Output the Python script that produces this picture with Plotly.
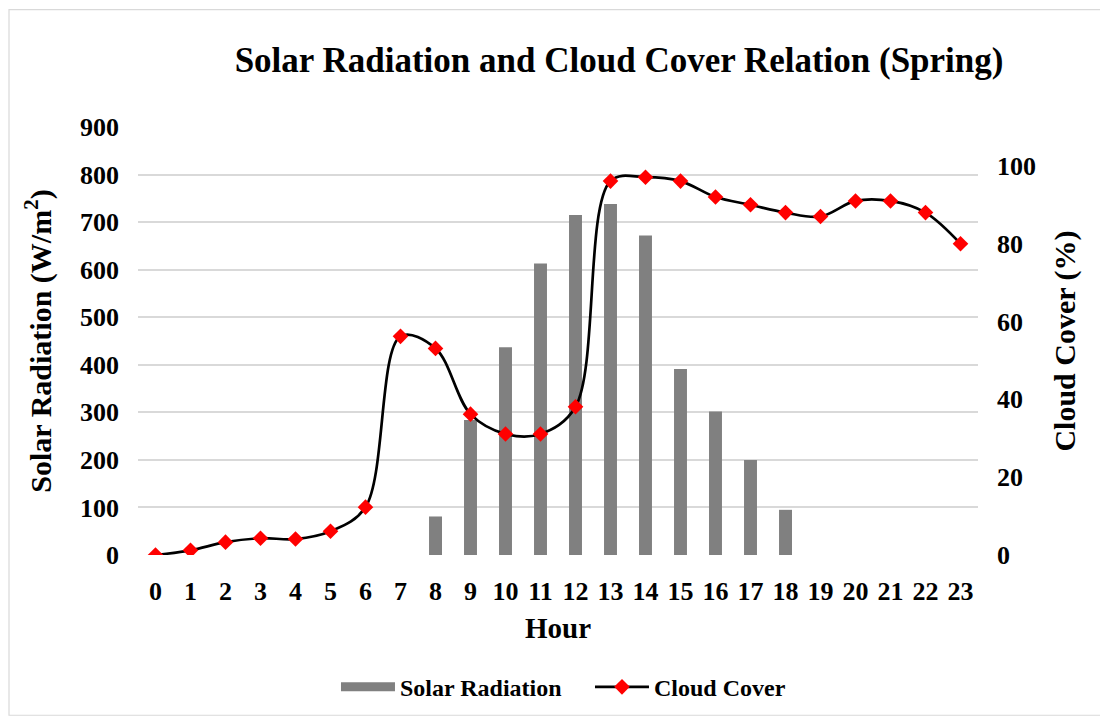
import plotly.graph_objects as go

hours = list(range(24))
solar = [0, 0, 0, 0, 0, 0, 0, 0, 81, 284, 437, 613, 715, 738, 672, 391, 302, 200, 95, 0, 0, 0, 0, 0]
cloud = [0, 1.2, 3.3, 4.3, 4.1, 6.1, 12.3, 56.2, 53.1, 36.2, 31.1, 31.1, 38.1,
         96.1, 97.1, 96.1, 92.0, 90.0, 88.0, 87.0, 91.0, 91.0, 88.0, 80.0]

FONT = "Liberation Serif"
W, H = 1100, 714          # page body adds 8px margin
L, R, T, B = 130, 130, 119, 165

fig = go.Figure()

fig.add_trace(go.Bar(
    x=hours, y=solar, name="Solar Radiation", showlegend=False,
    marker=dict(color="#808080", line=dict(width=0)),
    width=0.37
))
# legend entry drawn as a wide grey block like the original
fig.add_trace(go.Scatter(
    x=[None], y=[None], name="Solar Radiation", mode="lines",
    line=dict(color="#808080", width=9)
))

fig.add_trace(go.Scatter(
    x=hours, y=cloud, name="Cloud Cover", yaxis="y2",
    mode="lines+markers",
    line=dict(color="black", width=2.7, shape="spline", smoothing=1),
    marker=dict(symbol="diamond", color="#ff0000", size=12)
))

# light grey frame round the whole chart
pw, ph = W - L - R, H - T - B
fig.add_shape(type="rect", xref="paper", yref="paper",
              x0=(1 - L) / pw, x1=(W - 2 - L) / pw,
              y0=-(B - 4) / ph, y1=1 + (T - 1) / ph,
              line=dict(color="#d9d9d9", width=1.2), layer="below")

fig.update_layout(
    width=W, height=H,
    margin=dict(l=L, r=R, t=T, b=B),
    plot_bgcolor="white", paper_bgcolor="white",
    font=dict(family=FONT, color="black", size=26, weight="bold"),
    title=dict(text="Solar Radiation and Cloud Cover Relation (Spring)",
               x=0.5555, xanchor="center", y=0.927, yanchor="middle",
               font=dict(size=35, family=FONT, weight="bold")),
    xaxis=dict(
        tickmode="array", tickvals=hours, ticktext=[str(h) for h in hours],
        range=[-0.5, 23.5], showgrid=False, zeroline=False,
        showline=False, ticks="", ticklabelstandoff=18,
        title=dict(text="Hour", font=dict(size=29, family=FONT, weight="bold"), standoff=12),
        tickfont=dict(size=26, family=FONT, weight="bold")
    ),
    yaxis=dict(
        range=[0, 900], dtick=100, showgrid=True, gridcolor="#d9d9d9", gridwidth=1.5,
        zeroline=False, showline=False, ticks="", ticklabelstandoff=18,
        title=dict(text="Solar Radiation (W/m<sup>2</sup>)",
                   font=dict(size=30, family=FONT, weight="bold"), standoff=19),
        tickfont=dict(size=26, family=FONT, weight="bold")
    ),
    yaxis2=dict(
        overlaying="y", side="right", range=[0, 110],
        tickmode="array", tickvals=[0, 20, 40, 60, 80, 100],
        showgrid=False, zeroline=False, showline=False, ticks="", ticklabelstandoff=18,
        title=dict(text="Cloud Cover (%)", font=dict(size=30, family=FONT, weight="bold"), standoff=18),
        tickfont=dict(size=26, family=FONT, weight="bold")
    ),
    legend=dict(orientation="h", x=0.2357, xanchor="left", y=-0.309, yanchor="middle",
                font=dict(size=24, family=FONT, weight="bold"),
                itemwidth=54, entrywidth=185, entrywidthmode="pixels",
                traceorder="normal"),
)

fig.write_html("out.html")
